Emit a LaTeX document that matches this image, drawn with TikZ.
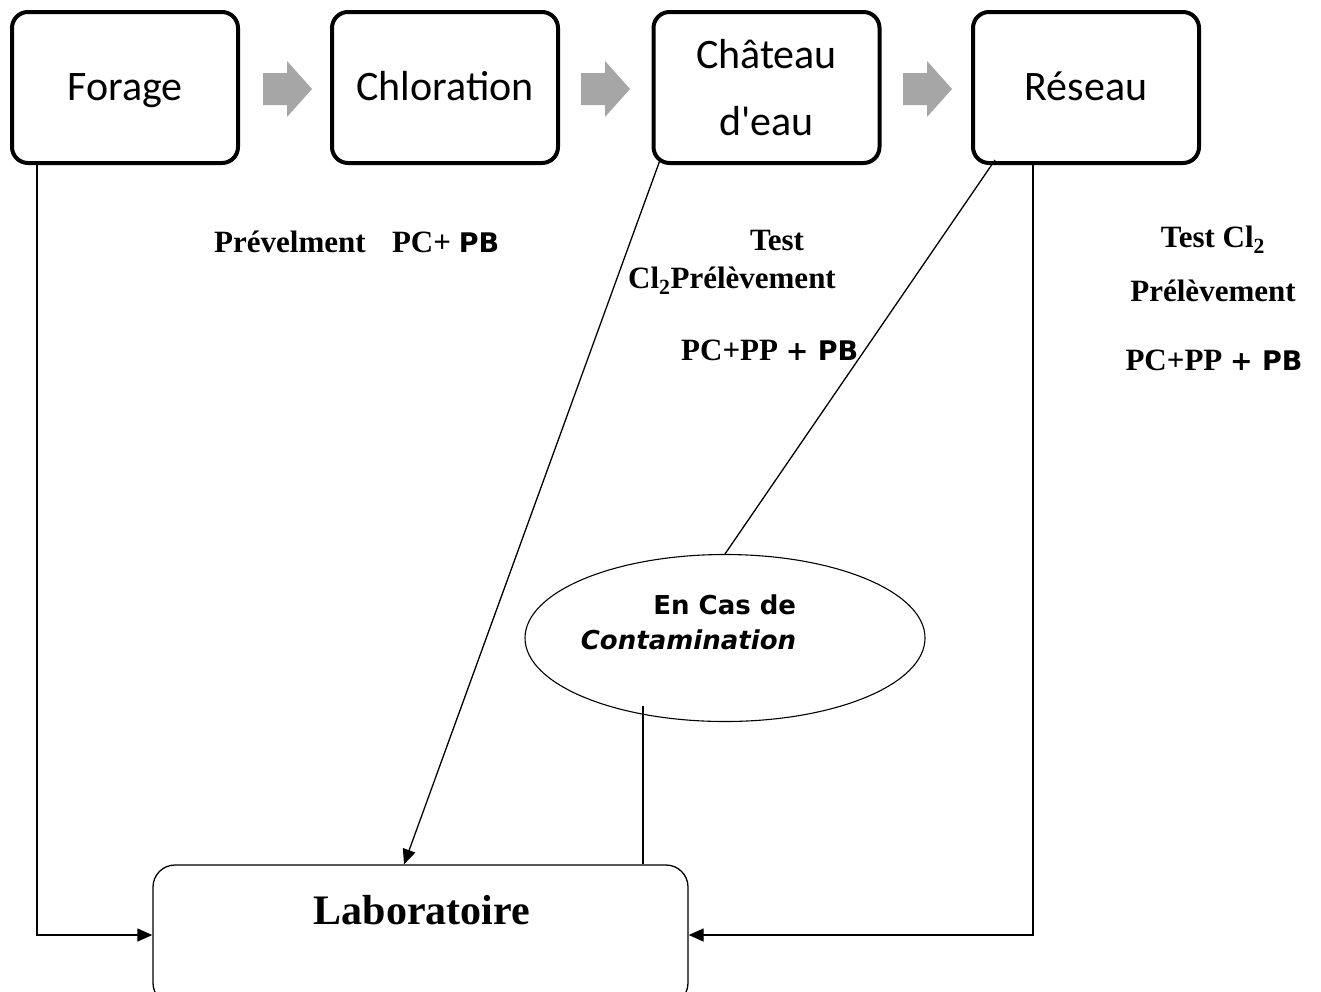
\documentclass[tikz,border=0pt]{standalone}
\usepackage{fontspec}
\setmainfont{Liberation Serif}
\newfontfamily\calfont{Carlito}
\newfontfamily\dvsfont{DejaVu Sans}
\newcommand\sansbold{\dvsfont\bfseries\fontsize{27}{30}\selectfont}
\usetikzlibrary{shapes.geometric,arrows.meta,calc}
\definecolor{arrgray}{HTML}{A6A6A6}
\begin{document}
\begin{tikzpicture}[x=1pt,y=-1pt,
  stage/.style={draw, line width=4pt, rounded corners=16pt, minimum width=226pt, minimum height=151pt,
    font=\calfont\fontsize{42}{67}\selectfont, align=center, inner sep=0pt},
  conn/.style={line width=1.3pt},
  arr/.style={-{Triangle[length=15pt,width=13pt]}},
  lbl/.style={font=\bfseries\fontsize{31}{35}\selectfont, inner sep=0pt, align=center},
  garrow/.pic={\fill[arrgray] (-25,-16) -- (-1,-16) -- (-1,-28) -- (24,0) -- (-1,28) -- (-1,16) -- (-25,16) -- cycle;}]
\clip (0,0) rectangle (1321,991);
\fill[white] (0,0) rectangle (1321,991);
% stages
\node[stage] (forage) at (125,87.5) {\strut Forage};
\node[stage] (chlor) at (445,87.5) {\strut Chloration};
\node[stage] (chat) at (766.5,87.5) {Château\\d'eau};
\node[stage] (res) at (1086,87.5) {\strut Réseau};
\pic at (288,89) {garrow};
\pic at (606,89) {garrow};
\pic at (928,89) {garrow};
% laboratory
\node[draw, line width=1.3pt, rounded corners=22pt, minimum width=535pt, minimum height=140pt] (lab) at (420.5,935) {};
\node[font=\bfseries\fontsize{42}{50}\selectfont, inner sep=0pt] (labt) at (422,910) {Laboratoire};
% ellipse
\node[draw, ellipse, line width=1.1pt, minimum width=400pt, minimum height=167pt, inner sep=0pt] (ell) at (725,638) {};
\node[inner sep=0pt, align=right, font=\dvsfont\bfseries\fontsize{26}{35}\selectfont] (ellt) at (688.5,622) {En Cas de\\ \textit{Contamination}};
% labels
\node[lbl, anchor=west] (l1) at (214,242) {Prévelment\hspace{0.85em}PC+ {\sansbold PB}};
\node[lbl] (l2) at (777,240) {Test};
\node[lbl, anchor=west] (l3) at (628,281) {Cl\textsubscript{2}Prélèvement};
\node[lbl, anchor=west] (l4) at (681,350) {PC+PP {\sansbold + PB}};
\node[lbl] (r1) at (1213,240) {Test Cl\textsubscript{2}};
\node[lbl] (r2) at (1213,291) {Prélèvement};
\node[lbl] (r3) at (1214,360) {PC+PP {\sansbold + PB}};
% coordinates
\coordinate (cf) at (37,0);
\coordinate (cc) at (660,160);
\coordinate (cl) at (404,0);
\coordinate (cr) at (995,160);
\coordinate (ce) at (643,0);
\coordinate (crv) at (1033,0);
% connectors
\draw[conn, arr] (forage.south -| cf) |- (lab.west);
\draw[conn, arr] (cc) -- (lab.north -| cl);
\draw[conn] (cr) -- (ell.north);
\draw[conn] (ell.south -| ce) ++(0,-16) -- (lab.north -| ce);
\draw[conn, arr] (res.south -| crv) |- (lab.east);
\end{tikzpicture}
\end{document}
